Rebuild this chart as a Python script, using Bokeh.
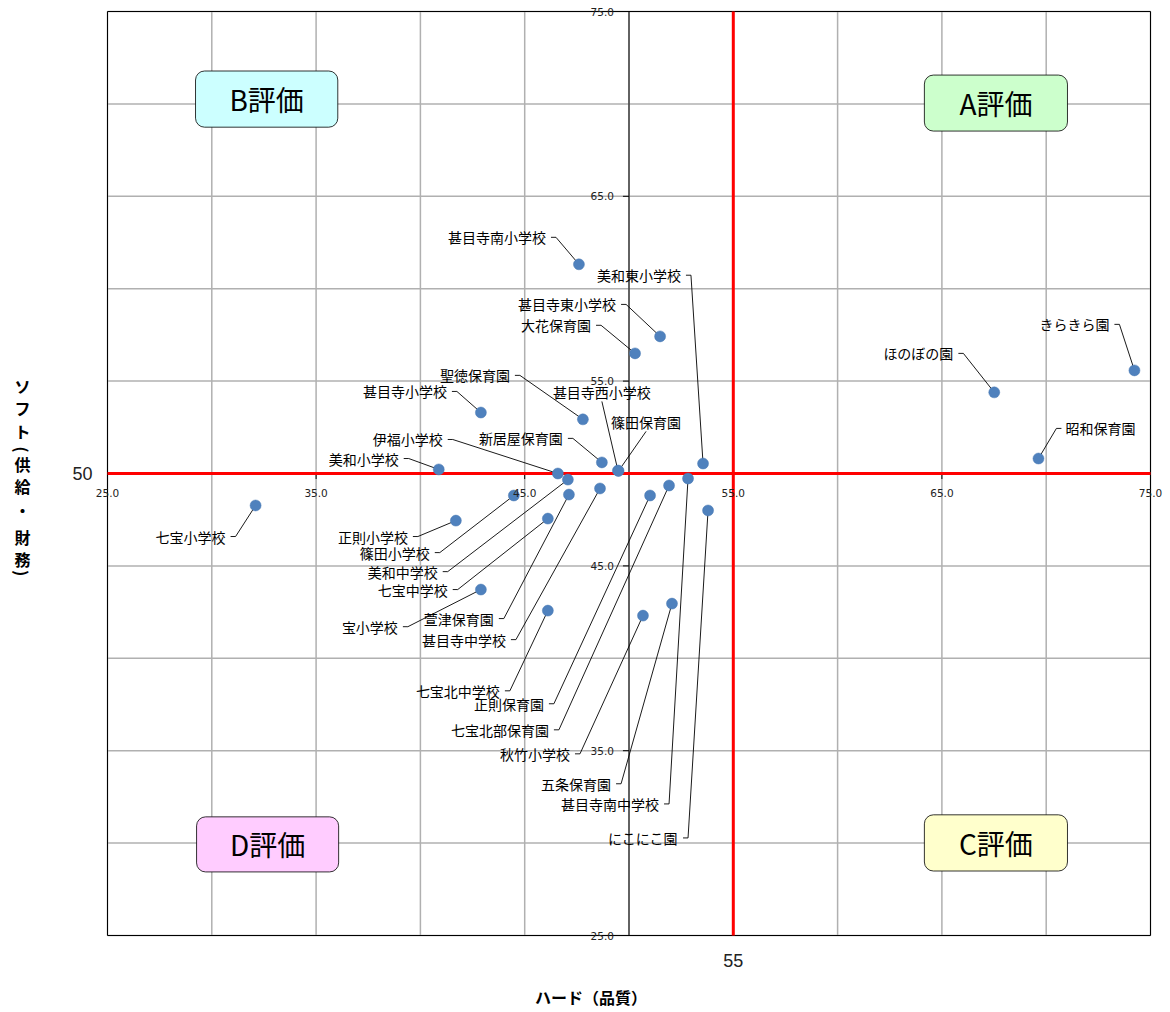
import math
from bokeh.plotting import figure
from bokeh.models import ColumnDataSource, LabelSet, Range1d
from bokeh.core.properties import value
from bokeh.embed import file_html
from bokeh.resources import INLINE

# ---------------- data ----------------
schools = ["甚目寺南小学校", "美和東小学校", "甚目寺東小学校", "大花保育園", "きらきら園",
           "ほのぼの園", "昭和保育園", "聖徳保育園", "甚目寺小学校", "甚目寺西小学校",
           "篠田保育園", "新居屋保育園", "伊福小学校", "美和小学校", "七宝小学校",
           "正則小学校", "篠田小学校", "美和中学校", "七宝中学校", "宝小学校",
           "萱津保育園", "甚目寺中学校", "七宝北中学校", "正則保育園", "七宝北部保育園",
           "秋竹小学校", "五条保育園", "甚目寺南中学校", "にこにこ園"]
hard = [47.60, 53.55, 51.49, 50.29, 74.23,
        67.51, 69.63, 47.79, 42.90, 49.47,
        49.50, 48.70, 46.59, 40.88, 32.10,
        41.70, 44.48, 47.07, 46.11, 42.90,
        47.12, 48.61, 46.11, 51.01, 51.92,
        50.67, 52.06, 52.83, 53.79]
soft = [61.32, 50.54, 57.42, 56.50, 55.58,
        54.39, 50.81, 52.93, 53.30, 50.16,
        50.14, 50.60, 50.00, 50.22, 48.27,
        47.45, 48.81, 49.67, 47.56, 43.72,
        48.86, 49.19, 42.58, 48.81, 49.35,
        42.31, 42.96, 49.73, 48.00]

axis_min, axis_max = 25, 75
grid_ticks = [25, 30, 35, 40, 45, 50, 55, 60, 65, 70, 75]
x_ticks = [25, 35, 45, 55, 65, 75]
y_ticks = [25, 35, 45, 55, 65, 75]
x_tick_labels = ["25.0", "35.0", "45.0", "55.0", "65.0", "75.0"]
y_tick_labels = ["25.0", "35.0", "45.0", "55.0", "65.0", "75.0"]
axis_cross = 50
hard_mean = 55
soft_mean = 50
quadrant_names = ["A評価", "B評価", "C評価", "D評価"]
x_title = "ハード（品質）"
y_title_chars = ["ソ", "フ", "ト", "(", "供", "給", "・", "財", "務", ")"]

# ---------------- annotation layout (data units) ----------------
lab_x = [46.50, 52.97, 49.86, 48.66, 73.51,
         66.03, 70.49, 44.77, 41.75, 48.70,
         50.82, 47.31, 41.55, 39.44, 31.14,
         39.88, 40.93, 41.31, 41.79, 39.40,
         44.00, 44.58, 44.29, 46.40, 46.64,
         47.65, 49.62, 51.92, 52.83]
lab_y = [62.78, 60.73, 59.15, 58.02, 58.07,
         56.50, 52.44, 55.31, 54.44, 53.90,
         52.28, 51.90, 51.84, 50.81, 46.59,
         46.59, 45.72, 44.69, 43.72, 41.71,
         42.15, 41.01, 38.24, 37.54, 36.13,
         34.83, 33.21, 32.12, 30.28]
lab_side = ["L", "L", "L", "L", "L",
            "L", "R", "L", "L", "T",
            "T", "L", "L", "L", "L",
            "L", "L", "L", "L", "L",
            "L", "L", "L", "L", "L",
            "L", "L", "L", "L"]
box_left = [64.16, 29.22, 64.16, 29.27]
box_right = [71.02, 36.04, 71.02, 36.08]
box_top = [71.56, 71.78, 31.53, 31.42]
box_bottom = [68.53, 68.74, 28.49, 28.44]
box_colors = ["#ccffcc", "#ccffff", "#ffffcc", "#ffccff"]
y_title_x = 20.92
y_title_pos = [54.71, 53.52, 52.28, 51.30, 50.49, 49.30, 48.05, 46.59, 45.40, 44.60]
y_title_angle = [0, 0, 0, -math.pi / 2, 0, 0, 0, 0, 0, -math.pi / 2]
x_title_pos = (48.18, 21.68)
mean_x_label_pos = (55.0, 23.67)
mean_y_label_pos = (25.0, 50.0)

CJK = "Noto Sans CJK JP"
DASH = 0.24

W, H = 1168, 1010
PX_X = 1043 / 50.0
PX_Y = 924 / 50.0
x_start = 25 - 107 / PX_X
y_top = 75 + 11 / PX_Y

p = figure(frame_width=W, frame_height=H,
           x_range=Range1d(x_start, x_start + W / PX_X),
           y_range=Range1d(y_top - H / PX_Y, y_top),
           output_backend="svg", toolbar_location=None,
           min_border=0, background_fill_color="white", border_fill_color="white")
p.xaxis.visible = False
p.yaxis.visible = False
p.xgrid.visible = False
p.ygrid.visible = False
p.outline_line_color = None

n = len(grid_ticks)
# grid
p.segment(x0=grid_ticks, y0=[axis_min] * n, x1=grid_ticks, y1=[axis_max] * n,
          line_color="#b0b0b0", line_width=1.5)
p.segment(x0=[axis_min] * n, y0=grid_ticks, x1=[axis_max] * n, y1=grid_ticks,
          line_color="#b0b0b0", line_width=1.5)
# plot border
p.quad(left=[axis_min], right=[axis_max], bottom=[axis_min], top=[axis_max],
       fill_color=None, line_color="black", line_width=1)

# quadrant boxes
p.quad(left=box_left, right=box_right, top=box_top, bottom=box_bottom,
       fill_color=box_colors, line_color="black", line_width=0.8, border_radius=9)
qsrc = ColumnDataSource(dict(
    x=[(a + b) / 2 for a, b in zip(box_left, box_right)],
    y=[(a + b) / 2 for a, b in zip(box_top, box_bottom)],
    t=quadrant_names))
p.add_layout(LabelSet(x="x", y="y", text="t", source=qsrc, text_align="center",
                      text_baseline="middle", text_font=value(CJK),
                      text_font_size="28px", text_color="black"))

# central y axis
p.segment(x0=[axis_cross], y0=[axis_min], x1=[axis_cross], y1=[axis_max],
          line_color="black", line_width=1)
p.segment(x0=[axis_cross - 0.29] * len(y_ticks), y0=y_ticks, x1=[axis_cross] * len(y_ticks),
          y1=y_ticks, line_color="black", line_width=1)
p.segment(x0=x_ticks, y0=[axis_cross] * len(x_ticks), x1=x_ticks,
          y1=[axis_cross - 0.3] * len(x_ticks), line_color="black", line_width=1)

# mean lines
p.segment(x0=[hard_mean], y0=[axis_min], x1=[hard_mean], y1=[axis_max],
          line_color="#ff0000", line_width=3)
p.segment(x0=[axis_min], y0=[soft_mean], x1=[axis_max], y1=[soft_mean],
          line_color="#ff0000", line_width=3)

# tick labels
xt = ColumnDataSource(dict(x=x_ticks, y=[axis_cross] * len(x_ticks), t=x_tick_labels))
p.add_layout(LabelSet(x="x", y="y", text="t", source=xt, y_offset=-19,
                      text_align="center", text_baseline="middle",
                      text_font=value("DejaVu Sans"), text_font_size="10.5px",
                      text_color="#222222"))
yt = ColumnDataSource(dict(x=[axis_cross] * len(y_ticks), y=y_ticks, t=y_tick_labels))
p.add_layout(LabelSet(x="x", y="y", text="t", source=yt, x_offset=-15,
                      text_align="right", text_baseline="middle",
                      text_font=value("DejaVu Sans"), text_font_size="10.5px",
                      text_color="#222222"))

# leader lines
p.segment(x0=hard, y0=soft, x1=lab_x, y1=lab_y, line_color="black", line_width=0.9)
dx0, dx1, dy = [], [], []
for lx, ly, s in zip(lab_x, lab_y, lab_side):
    if s == "L":
        dx0.append(lx - DASH); dx1.append(lx); dy.append(ly)
    elif s == "R":
        dx0.append(lx); dx1.append(lx + DASH); dy.append(ly)
p.segment(x0=dx0, y0=dy, x1=dx1, y1=dy, line_color="black", line_width=0.9)

# points
p.scatter(hard, soft, size=11, fill_color="#4f81bd", line_color="#4a7ab5", line_width=0.5)

# point labels
for side, align, xo, yo in [("L", "right", -10, 0), ("R", "left", 9, 0), ("T", "center", 0, 9)]:
    idx = [i for i, s in enumerate(lab_side) if s == side]
    src = ColumnDataSource(dict(x=[lab_x[i] for i in idx], y=[lab_y[i] for i in idx],
                                t=[schools[i] for i in idx]))
    p.add_layout(LabelSet(x="x", y="y", text="t", source=src, x_offset=xo, y_offset=yo,
                          text_align=align, text_baseline="middle",
                          text_font=value(CJK), text_font_size="14px", text_color="black"))

# mean value labels
msrc = ColumnDataSource(dict(x=[mean_y_label_pos[0], mean_x_label_pos[0]],
                             y=[mean_y_label_pos[1], mean_x_label_pos[1]],
                             t=[str(soft_mean), str(hard_mean)],
                             xo=[-15, 0], al=["right", "center"]))
p.add_layout(LabelSet(x="x", y="y", text="t", source=msrc, x_offset="xo", text_align="al",
                      text_baseline="middle", text_font=value("Liberation Sans"),
                      text_font_size="18px", text_color="#222222"))

# axis titles
tsrc = ColumnDataSource(dict(x=[x_title_pos[0]], y=[x_title_pos[1]], t=[x_title]))
p.add_layout(LabelSet(x="x", y="y", text="t", source=tsrc, text_align="center",
                      text_baseline="middle", text_font=value(CJK), text_font_size="16px",
                      text_font_style="bold", text_color="black"))
ysrc = ColumnDataSource(dict(x=[y_title_x] * len(y_title_chars), y=y_title_pos,
                             t=y_title_chars, a=y_title_angle))
p.add_layout(LabelSet(x="x", y="y", text="t", source=ysrc, angle="a",
                      text_align="center", text_baseline="middle",
                      text_font=value(CJK), text_font_size="16px", text_font_style="bold",
                      text_color="black"))

open("out.html", "w").write(file_html(p, INLINE))
